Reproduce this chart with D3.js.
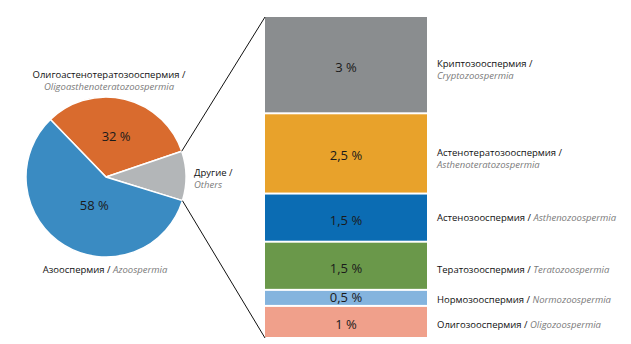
<!DOCTYPE html>
<html><head><meta charset="utf-8">
<script src="https://cdn.jsdelivr.net/npm/d3@7"></script>
<style>
html,body{margin:0;padding:0;background:#fff;}
svg{display:block;font-family:"Open Sans",sans-serif;}
</style></head>
<body><svg id="c" width="631" height="344"></svg>
<script>
// Pie data
const pieRu = ["Олигоастенотератозооспермия", "Другие", "Азооспермия"];
const pieEn = ["Oligoasthenoteratozoospermia", "Others", "Azoospermia"];
const pieValues = [32, 10, 58];
const pieLabels = ["32 %", "", "58 %"];
const pieColors = ["#d96b2e", "#b3b6b8", "#3a8bc2"];

// Stacked bar (breakdown of "Others")
const barRu = ["Криптозооспермия", "Астенотератозооспермия", "Астенозооспермия", "Тератозооспермия", "Нормозооспермия", "Олигозооспермия"];
const barEn = ["Cryptozoospermia", "Asthenoteratozospermia", "Asthenozoospermia", "Teratozoospermia", "Normozoospermia", "Oligozoospermia"];
const barValues = [3, 2.5, 1.5, 1.5, 0.5, 1];
const barLabels = ["3 %", "2,5 %", "1,5 %", "1,5 %", "0,5 %", "1 %"];
const barColors = ["#8a8d8f", "#e8a22b", "#0b6cb3", "#6a984a", "#84b4de", "#f0a08b"];

const svg = d3.select("#c");
const cx = 106, cy = 177, R = 80;
const deg = Math.PI / 180;

const pie = d3.pie().sort(null).value(d => d)
  .startAngle(-44 * deg).endAngle(316 * deg);
const arcs = pie(pieValues);
const arc = d3.arc().innerRadius(0).outerRadius(R);
const g = svg.append("g").attr("transform", `translate(${cx},${cy})`);
g.selectAll("path").data(arcs).join("path")
  .attr("d", arc)
  .attr("fill", (d, i) => pieColors[i])
  .attr("stroke", "#fff").attr("stroke-width", 1.5);

const labelArcs = [d3.arc().innerRadius(0).outerRadius(86), null, d3.arc().innerRadius(0).outerRadius(60)];
arcs.forEach((d, i) => {
  if (!pieLabels[i]) return;
  const [x, y] = labelArcs[i].centroid(d);
  g.append("text").attr("x", x + (i === 2 ? 4 : 0)).attr("y", y + (i === 2 ? 7 : 6))
    .attr("text-anchor", "middle").attr("font-size", 13).attr("fill", "#1a1a1a")
    .text(pieLabels[i]);
});

// Bar
const x0 = 265, x1 = 427;
const y = d3.scaleLinear().domain([0, d3.sum(barValues)]).range([17, 338]);
let cum = 0;
const segs = barValues.map((v, i) => { const s = { v, i, a: cum, b: cum + v }; cum += v; return s; });
svg.selectAll("rect.seg").data(segs).join("rect")
  .attr("class", "seg")
  .attr("x", x0).attr("width", x1 - x0)
  .attr("y", d => y(d.a) + (d.i ? 1 : 0))
  .attr("height", d => y(d.b) - y(d.a) - (d.i ? 1 : 0) - 1)
  .attr("fill", d => barColors[d.i]);
svg.selectAll("text.seg").data(segs).join("text")
  .attr("class", "seg")
  .attr("x", (x0 + x1) / 2)
  .attr("y", d => (y(d.a) + y(d.b)) / 2 + (d.v < 1 ? 4.5 : 7))
  .attr("text-anchor", "middle").attr("font-size", 13).attr("fill", "#1a1a1a")
  .text(d => barLabels[d.i]);

// Connector lines from "Others" slice to bar
const others = arcs[1];
const p1 = [cx + R * Math.sin(others.startAngle), cy - R * Math.cos(others.startAngle)];
const p2 = [cx + R * Math.sin(others.endAngle), cy - R * Math.cos(others.endAngle)];
svg.append("line").attr("x1", p1[0]).attr("y1", p1[1]).attr("x2", x0).attr("y2", y(0))
  .attr("stroke", "#111").attr("stroke-width", 1);
svg.append("line").attr("x1", p2[0]).attr("y1", p2[1]).attr("x2", x0).attr("y2", y(d3.sum(barValues)))
  .attr("stroke", "#111").attr("stroke-width", 1);

const fs = 9.5;
function label(x, yy, ru, en, twoLines, anchor) {
  const t = svg.append("text").attr("x", x).attr("y", yy).attr("font-size", fs).attr("text-anchor", anchor || "start");
  if (twoLines) {
    t.append("tspan").attr("fill", "#111").text(ru + " /");
    t.append("tspan").attr("x", x).attr("dy", 11.5).attr("fill", "#7a7a7a").attr("font-style", "italic").text(en);
  } else {
    t.append("tspan").attr("fill", "#111").text(ru + " / ");
    t.append("tspan").attr("fill", "#7a7a7a").attr("font-style", "italic").text(en);
  }
}
// pie labels
label(109, 78, pieRu[0], pieEn[0], true, "middle");
label(194, 176, pieRu[1], pieEn[1], true);
label(105, 273, pieRu[2], pieEn[2], false, "middle");

// bar labels
const barLabelY = [67, 156, 221, 273, 303, 328];
const barTwo = [true, true, false, false, false, false];
barRu.forEach((r, i) => label(437, barLabelY[i], r, barEn[i], barTwo[i]));
</script></body></html>
